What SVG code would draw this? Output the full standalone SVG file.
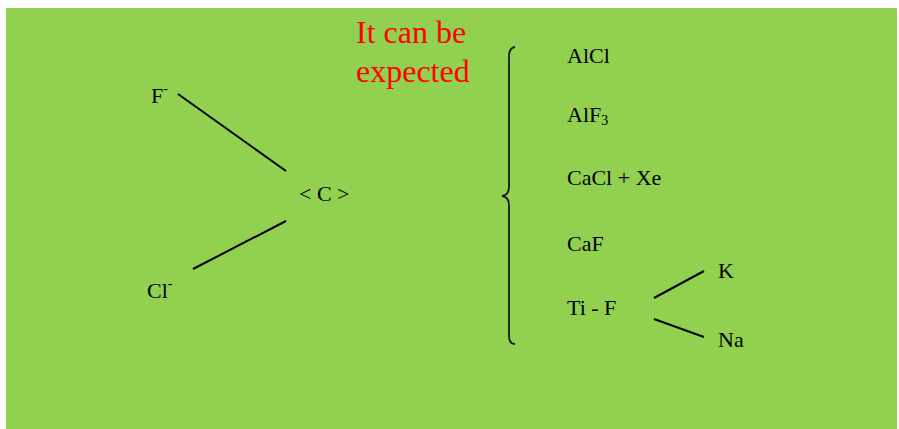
<svg xmlns="http://www.w3.org/2000/svg" width="899" height="429" viewBox="0 0 899 429">
<style>
.t{font-family:"Liberation Serif","Times New Roman",serif;font-size:22px;fill:#000}
.r{font-family:"Liberation Serif","Times New Roman",serif;font-size:32px;fill:#FF0000}
.c{stroke:#000;stroke-width:2;fill:none}
.b{stroke:#1a1a1a;stroke-width:1.8;fill:none}
</style>
<rect x="0" y="0" width="899" height="429" fill="#ffffff"/>
<rect x="6" y="8" width="891" height="421" fill="#92D050"/>
<g id="title">
<text class="r" x="356" y="43">It can be</text>
<text class="r" x="356" y="82">expected</text>
</g>
<g id="node-F"><text class="t" x="151" y="103">F<tspan font-size="14" dy="-10">-</tspan></text></g>
<g id="node-Cl"><text class="t" x="147" y="298">Cl<tspan font-size="14" dy="-10">-</tspan></text></g>
<g id="node-C"><text class="t" x="299" y="201">&lt; C &gt;</text></g>
<g id="brace"><path class="b" d="M515 47 Q509 48 509 56 L509 187 Q509 195 502 196 Q509 197 509 205 L509 336 Q509 344 515 344"/></g>
<g id="node-AlCl"><text class="t" x="567" y="63">AlCl</text></g>
<g id="node-AlF3"><text class="t" x="567" y="122">AlF<tspan font-size="14" dy="3">3</tspan></text></g>
<g id="node-CaClXe"><text class="t" x="567" y="185">CaCl + Xe</text></g>
<g id="node-CaF"><text class="t" x="567" y="251">CaF</text></g>
<g id="node-TiF"><text class="t" x="567" y="315">Ti - F</text></g>
<g id="node-K"><text class="t" x="718" y="278">K</text></g>
<g id="node-Na"><text class="t" x="718" y="347">Na</text></g>
<g id="connectors">
<line class="c" x1="178" y1="94" x2="286" y2="171"/>
<line class="c" x1="193" y1="269" x2="286" y2="221"/>
<line class="c" x1="654" y1="298" x2="704" y2="271"/>
<line class="c" x1="654" y1="319" x2="704" y2="337"/>
</g>
</svg>
